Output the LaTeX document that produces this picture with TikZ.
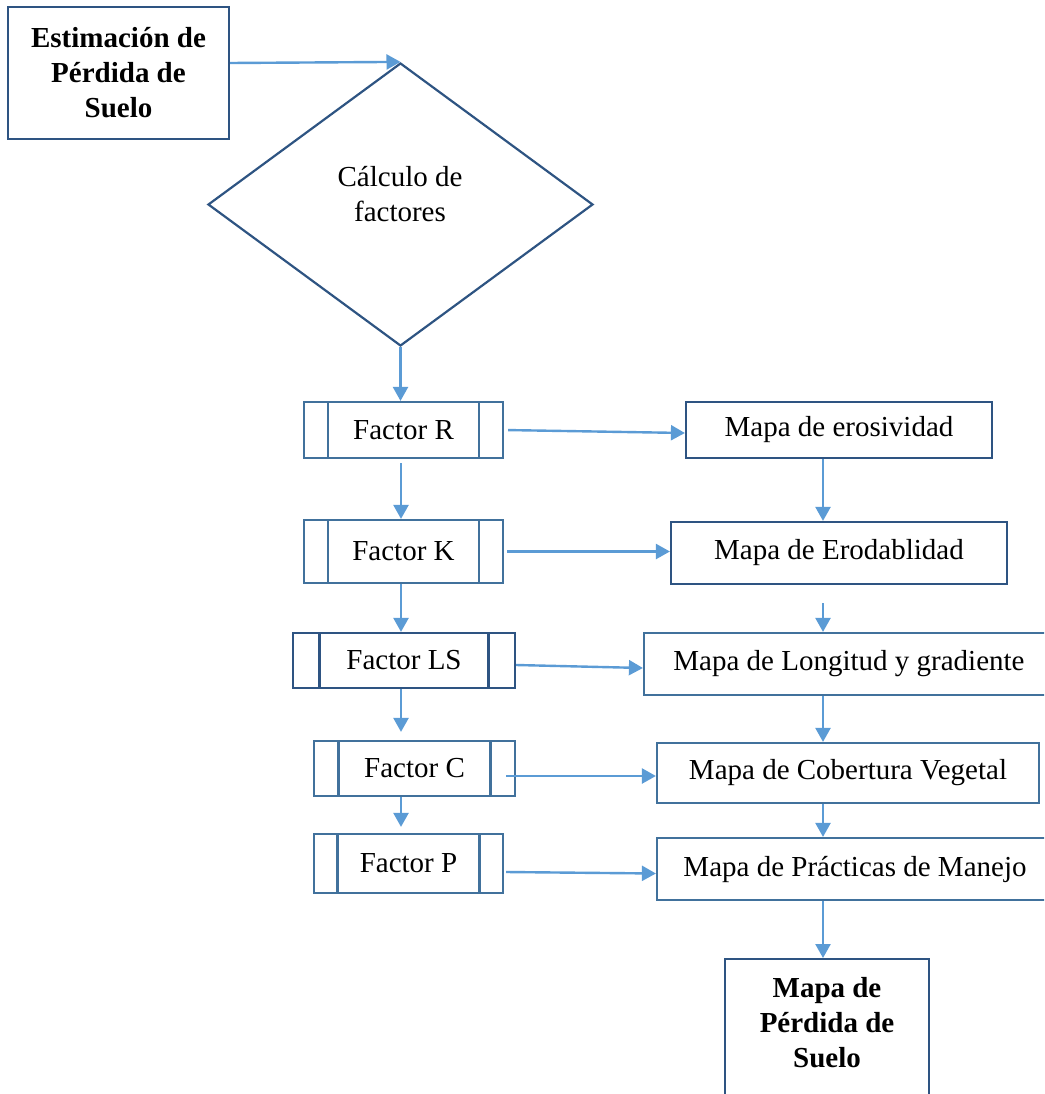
\documentclass[tikz,border=0pt]{standalone}
\usepackage{fontspec}
\setmainfont{Liberation Serif}
\usetikzlibrary{shapes.geometric,arrows.meta}
\definecolor{darkb}{RGB}{46,84,130}
\definecolor{medb}{RGB}{65,113,156}
\definecolor{arrc}{RGB}{91,155,213}
\newcommand{\fsz}{\fontsize{29}{35}\selectfont}
\begin{document}
\begin{tikzpicture}[x=1pt,y=-1pt,
  box/.style={draw=#1, line width=2.2pt, rectangle, inner sep=0pt, font=\fsz, align=center},
  fbox/.style 2 args={draw=#2, line width=2.2pt, rectangle, inner sep=0pt, font=\fsz,
    path picture={\draw[#2, line width=2.2pt]
      ([xshift=#1]path picture bounding box.north west) -- ([xshift=#1]path picture bounding box.south west)
      ([xshift=-#1]path picture bounding box.north east) -- ([xshift=-#1]path picture bounding box.south east);}},
  arr/.style={draw=arrc, line width=2.4pt, -{Triangle[width=15pt,length=14pt]}},
  lbl/.style={font=\fsz, align=center, inner sep=0pt}]

\useasboundingbox (0,0) rectangle (1044,1094);
\clip (0,0) rectangle (1044,1094);

% top
\node[box=darkb, minimum width=221pt, minimum height=132pt, font=\fsz\bfseries] (est) at (118.5,73) {Estimación de\\Pérdida de\\Suelo};
\node[draw=darkb, line width=2.2pt, diamond, minimum width=385pt, minimum height=283pt, inner sep=0pt] (calc) at (400.5,204.5) {};
\node[lbl] (calct) at (400,194) {Cálculo de\\factores};

% factors
\node[fbox={24pt}{medb}, minimum width=199pt, minimum height=56pt] (fR) at (403.5,430) {Factor R};
\node[fbox={24pt}{medb}, minimum width=199pt, minimum height=63pt] (fK) at (403.5,551.5) {Factor K};
\node[fbox={26.5pt}{darkb}, minimum width=222pt, minimum height=55pt] (fLS) at (404,660.5) {Factor LS};
\node[fbox={24.5pt}{medb}, minimum width=201pt, minimum height=55pt] (fC) at (414.5,768.5) {Factor C};
\node[fbox={23.5pt}{medb}, minimum width=189pt, minimum height=59pt] (fP) at (408.5,863.5) {Factor P};

% maps
\node[box=darkb, minimum width=306pt, minimum height=56pt] (eros) at (839,430) {Mapa de erosividad};
\node[box=darkb, minimum width=336pt, minimum height=62pt] (erod) at (839,553) {Mapa de Erodablidad};
\node[box=medb, minimum width=410pt, minimum height=62pt] (long) at (849,664) {Mapa de Longitud y gradiente};
\node[box=medb, minimum width=382pt, minimum height=60pt] (cob) at (848,773) {Mapa de Cobertura Vegetal};
\node[box=medb, minimum width=396pt, minimum height=62pt] (prac) at (855,869) {Mapa de Prácticas de Manejo};
\node[box=darkb, anchor=north, minimum width=204pt, minimum height=200pt] (perd) at (827,958) {};
\node[lbl, font=\fsz\bfseries] (perdt) at (827,1022.5) {Mapa de\\Pérdida de\\Suelo};

\coordinate (xl) at (401,0);
\coordinate (xr) at (823,0);

% connectors
\draw[arr] ([yshift=10pt]est.east) -- (calc.north);
\draw[arr] (calc.south) -- (calc.south |- fR.north);
\draw[arr, shorten <=4pt] (fR.south -| xl) -- (fK.north -| xl);
\draw[arr] (fK.south -| xl) -- (fLS.north -| xl);
\draw[arr, shorten >=8pt] (fLS.south -| xl) -- (fC.north -| xl);
\draw[arr, shorten >=6pt] (fC.south -| xl) -- (fP.north -| xl);

\draw[arr] (eros.south -| xr) -- (erod.north -| xr);
\draw[arr, shorten <=18pt] (erod.south -| xr) -- (long.north -| xr);
\draw[arr] (long.south -| xr) -- (cob.north -| xr);
\draw[arr] (cob.south -| xr) -- (prac.north -| xr);
\draw[arr] (prac.south -| xr) -- (perd.north -| xr);

\draw[arr, shorten <=4pt] (fR.east) -- ([yshift=-3pt]eros.west);
\draw[arr, shorten <=3pt] (fK.east) -- (fK.east -| erod.west);
\draw[arr] ([yshift=-4.5pt]fLS.east) -- ([yshift=-4pt]long.west);
\draw[arr] ([xshift=-10pt,yshift=-7.5pt]fC.east) -- ([yshift=-3pt]cob.west);
\draw[arr] ([xshift=2pt,yshift=-8.5pt]fP.east) -- ([yshift=-4.5pt]prac.west);
\end{tikzpicture}
\end{document}
